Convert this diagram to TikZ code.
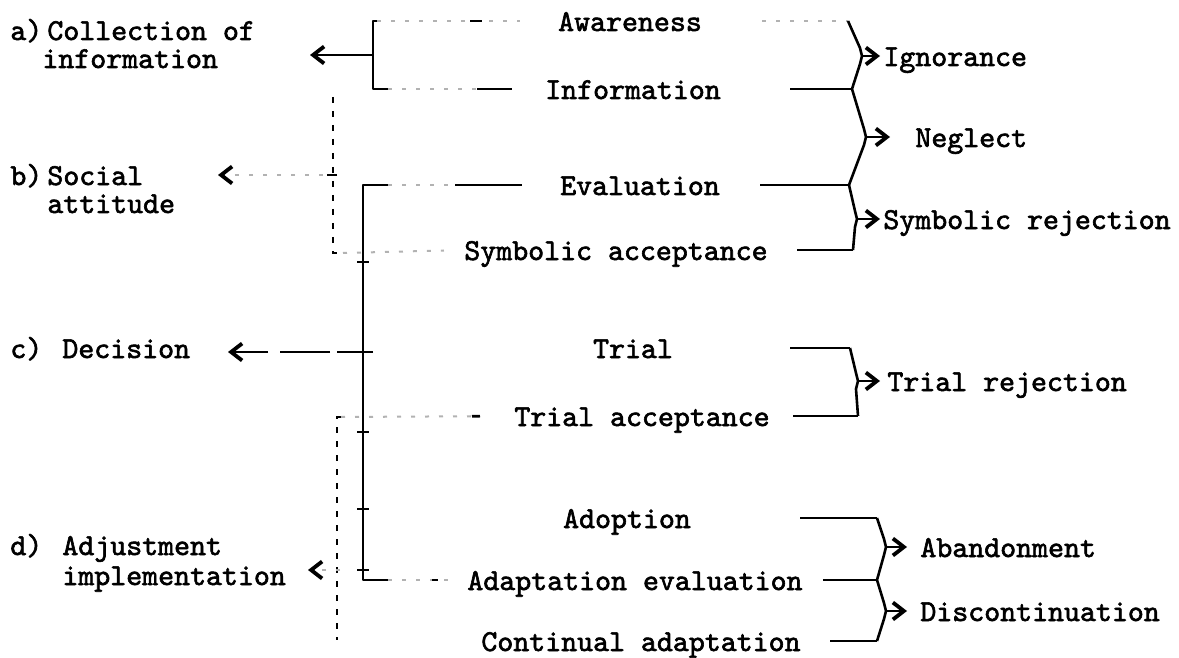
\documentclass[tikz,border=0pt]{standalone}
\usepackage{fontspec}
\newfontfamily\typewriter{lmmono10-regular.otf}[FakeBold=2]
\usetikzlibrary{arrows.meta}

\begin{document}
\begin{tikzpicture}[x=0.5pt, y=-0.5pt,
  txt/.style={inner sep=0pt, text height=10pt, text depth=0pt, font={\typewriter\fontsize{15.2}{15}\selectfont}},
  mid/.style={txt, anchor=base},
  lab/.style={txt, anchor=base west},
  link/.style={line width=1.3pt, line join=round},
  faint/.style={line width=1pt, black!30, dash pattern=on 2pt off 5pt},
  dots/.style={line width=1.3pt, dash pattern=on 3pt off 4pt},
  tip/.style={-{Straight Barb[length=5.5pt, width=8.5pt, line width=1.9pt, color=black]}}]
\useasboundingbox (0,0) rectangle (1179,658);

\node[lab] (ta) at (10,40) {a)};
\node[lab] (la1) at (47,40) {Collection of};
\node[lab] (la2) at (42,68) {information};
\node[lab] (tb) at (10,185) {b)};
\node[lab] (lb1) at (47,185) {Social};
\node[lab] (lb2) at (47,213) {attitude};
\node[lab] (tc) at (10,358) {c)};
\node[lab] (lc) at (62,358) {Decision};
\node[lab] (td) at (10,555) {d)};
\node[lab] (ld1) at (62,555) {Adjustment};
\node[lab] (ld2) at (62,585) {implementation};

\node[mid] (AW) at (630,31) {Awareness};
\node[mid] (IN) at (633,99) {Information};
\node[mid] (EV) at (640,195) {Evaluation};
\node[mid] (SA) at (616,260) {Symbolic acceptance};
\node[mid] (TR) at (633,358) {Trial};
\node[mid] (TA) at (642,426) {Trial acceptance};
\node[mid] (AD) at (627,528) {Adoption};
\node[mid] (AE) at (635,590) {Adaptation evaluation};
\node[mid] (CA) at (641,651) {Continual adaptation};

\node[lab] (IG) at (883,66) {Ignorance};
\node[lab] (NE) at (915,147) {Neglect};
\node[lab] (SR) at (883,229) {Symbolic rejection};
\node[lab] (TJ) at (887,391) {Trial rejection};
\node[lab] (AB) at (920,557) {Abandonment};
\node[lab] (DI) at (920,621) {Discontinuation};

\coordinate (i1) at (848,21);
\coordinate (i2) at (862,56);
\coordinate (i3) at (852,89);
\coordinate (n2) at (866,137);
\coordinate (s1) at (849,185);
\coordinate (s2) at (857,219);
\coordinate (s3) at (853,250);
\coordinate (r1) at (850,348);
\coordinate (r2) at (858,381);
\coordinate (r3) at (858,416);
\coordinate (b1) at (877,518);
\coordinate (b2) at (886,547);
\coordinate (b3) at (877,580);
\coordinate (d2) at (886,611);
\coordinate (d3) at (877,641);

\draw[faint, shorten <=30pt] (AW.east) -- (i1);
\draw[link, shorten <=34.5pt] (IN.east) -- (i3);
\draw[link, shorten <=20pt] (EV.east) -- (s1);
\draw[link, shorten <=14.5pt] (SA.east) -- (s3);
\draw[link, shorten <=58.5pt] (TR.east) -- (r1);
\draw[link, shorten <=11.5pt] (TA.east) -- (r3);
\draw[link, shorten <=54.5pt] (AD.east) -- (b1);
\draw[link, shorten <=10pt] (AE.east) -- (b3);
\draw[link, shorten <=14.5pt] (CA.east) -- (d3);

\draw[link] (i1) -- ([shift={(-2,-8)}]i2) -- (i2) -- ([shift={(-2,8)}]i2) -- (i3)
  -- ([shift={(-2,-8)}]n2) -- (n2) -- ([shift={(-2,8)}]n2) -- (s1);
\draw[link] (s1) -- ([shift={(-2,-8)}]s2) -- (s2) -- ([shift={(-2,8)}]s2) -- (s3);
\draw[link] (r1) -- ([shift={(-2,-8)}]r2) -- (r2) -- ([shift={(-2,8)}]r2) -- (r3);
\draw[link] (b1) -- ([shift={(-2,-8)}]b2) -- (b2) -- ([shift={(-2,8)}]b2) -- (b3)
  -- ([shift={(-2,-8)}]d2) -- (d2) -- ([shift={(-2,8)}]d2) -- (d3);

\draw[link, tip, shorten >=1.5pt] (i2) -- (IG.west);
\draw[link, tip, shorten >=12.5pt] (n2) -- (NE.west);
\draw[link, tip, shorten >=1.5pt] (s2) -- (SR.west);
\draw[link, tip, shorten >=3.5pt] (r2) -- (TJ.west);
\draw[link, tip, shorten >=6.5pt] (b2) -- (AB.west);
\draw[link, tip, shorten >=6.5pt] (d2) -- (DI.west);

\coordinate (a1) at (377,21);
\coordinate (a2) at (373,21);
\coordinate (a3) at (373,89);
\coordinate (a4) at (388,89);
\coordinate (am) at (373,55);
\coordinate (ea) at (310,55);
\draw[link] (a1) -- (a2) -- (a3) -- (a4);
\draw[link, tip] (am) -- (ea);
\draw[faint, shorten >=19pt] (a1) -- (AW.west);
\draw[link, dash pattern=on 0pt off 46.5pt on 6pt off 200pt] (a1) -- (AW.west);
\draw[faint, shorten >=16.5pt] (a4) -- (IN.west);
\draw[link, dash pattern=on 0pt off 44.5pt on 17.5pt off 200pt] (a4) -- (IN.west);

\coordinate (sb1) at (333,97);
\coordinate (sb2) at (333,253);
\coordinate (sb3) at (343,253);
\coordinate (bm) at (337,175);
\coordinate (eb) at (218,175);
\draw[dots] (sb1) -- (sb2) -- (sb3);
\draw[faint, shorten >=10pt] (sb3) -- (SA.west);
\draw[faint, tip] (bm) -- (eb);
\draw[link] (bm) -- ++(-10,0);

\coordinate (c1) at (388,185);
\coordinate (c2) at (363,185);
\coordinate (c3) at (363,580);
\coordinate (c4) at (388,580);
\coordinate (cm) at (373,352);
\coordinate (ec) at (228,352);
\draw[link] (c1) -- (c2) -- (c3) -- (c4);
\foreach \y in {262,432,509,570} \draw[link] (357,\y) -- (369,\y);
\draw[link, tip, dash pattern=on 18pt off 3.5pt on 25pt off 6pt on 40pt] (cm) -- (ec);
\draw[faint, shorten >=20pt] (c1) -- (EV.west);
\draw[link, dash pattern=on 0pt off 33.5pt on 33.5pt off 200pt] (c1) -- (EV.west);
\draw[faint, shorten >=5pt] (c4) -- (AE.west);
\draw[link, dash pattern=on 0pt off 22pt on 3pt off 200pt] (c4) -- (AE.west);

\coordinate (sd1) at (341,417);
\coordinate (sd2) at (337,417);
\coordinate (sd3) at (337,640);
\coordinate (dm) at (340,570);
\coordinate (ed) at (308,570);
\draw[dots] (sd1) -- (sd2) -- (sd3);
\draw[faint, shorten >=17pt] (sd1) -- (TA.west);
\draw[link, dash pattern=on 0pt off 65.5pt on 4pt off 200pt] (sd1) -- (TA.west);
\draw[faint, tip] (dm) -- (ed);

\end{tikzpicture}
\end{document}
